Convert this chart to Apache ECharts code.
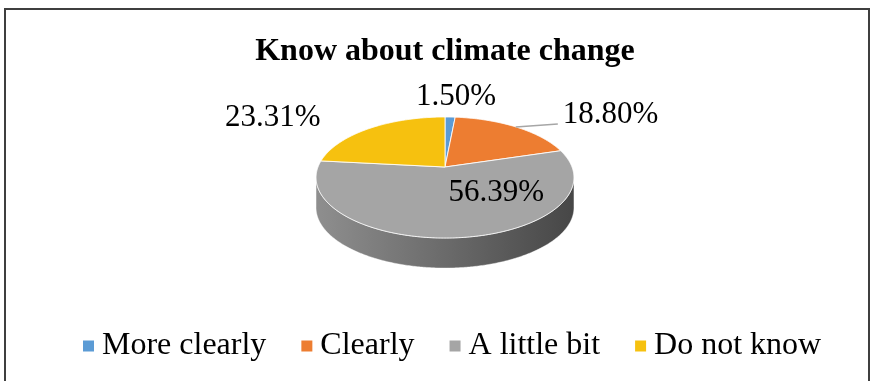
<!DOCTYPE html>
<html>
<head>
<meta charset="utf-8">
<script src="https://cdn.jsdelivr.net/npm/echarts@6/dist/echarts.min.js"></script>
<style>
  html, body { margin: 0; padding: 0; background: #fff; }
  #chart { width: 874px; height: 381px; }
</style>
</head>
<body>
<div id="chart"></div>
<script>
// data
const categories = ['More clearly', 'Clearly', 'A little bit', 'Do not know'];
const shares = [1.50, 18.80, 56.39, 23.31];
const labelTexts = ['1.50%', '18.80%', '56.39%', '23.31%'];

// look
const colors = ['#5B9BD5', '#ED7D31', '#A5A5A5', '#F6C10F'];
const sideStops = [
  ['#4a86bd', '#3b6a96'],
  ['#cf6a22', '#a04f16'],
  ['#8e8e8e', '#474747'],
  ['#dcaa12', '#b48a06']
];
// label placement relative to the rim point at the slice middle: [radius factor, dx, dy, leader]
const labelLayout = [
  [1, 6, -20, false],
  [1, 47, -12, true],
  [0.55, 44, -10, false],
  [1, -97, -10, false]
];

// tilted pie geometry (perspective-ish ellipse)
const CX = 445, CY = 167, RX = 127, RY = 58.7, PERSP = 0.1736, DEPTH = 30;
const FONT = '"Liberation Serif", "Times New Roman", serif';

function rim(phi, k) {
  k = k == null ? 1 : k;
  const s = Math.sin(phi), c = Math.cos(phi);
  const den = 1 + PERSP * k * c;
  return [CX + RX * k * s / den, CY - RY * k * c / den];
}

const total = shares.reduce((a, b) => a + b, 0);

function makeRender(i) {
  return function (params, api) {
    const v = api.value(0);
    let before = 0;
    for (let j = 0; j < i; j++) before += shares[j];
    const a0 = before / total * Math.PI * 2;
    const a1 = (before + v) / total * Math.PI * 2;
    const children = [];

    // top face
    const top = [[CX, CY]];
    const n = Math.max(2, Math.ceil((a1 - a0) / 0.01));
    for (let t = 0; t <= n; t++) top.push(rim(a0 + (a1 - a0) * t / n));
    children.push({
      type: 'polygon', z2: 10,
      shape: { points: top },
      style: { fill: colors[i], stroke: 'rgba(255,255,255,0.85)', lineWidth: 1 }
    });

    // visible outer side
    const L = Math.acos(-PERSP), R = Math.PI * 2 - L;
    const s0 = Math.max(a0, L), s1 = Math.min(a1, R);
    if (s0 < s1) {
      const up = [], down = [];
      const m = Math.max(2, Math.ceil((s1 - s0) / 0.01));
      for (let t = 0; t <= m; t++) {
        const p = rim(s0 + (s1 - s0) * t / m);
        up.push(p);
        down.unshift([p[0], p[1] + DEPTH]);
      }
      children.push({
        type: 'polygon', z2: 1,
        shape: { points: up.concat(down) },
        style: {
          fill: {
            type: 'linear', global: true,
            x: CX - RX, y: 0, x2: CX + RX, y2: 0,
            colorStops: [
              { offset: 0, color: sideStops[i][0] },
              { offset: 1, color: sideStops[i][1] }
            ]
          },
          stroke: 'rgba(255,255,255,0.5)', lineWidth: 0.8
        }
      });
    }

    // label
    const lay = labelLayout[i];
    const mid = (a0 + a1) / 2;
    const anchor = rim(mid, lay[0]);
    const lx = anchor[0] + lay[1], ly = anchor[1] + lay[2];
    if (lay[3]) {
      children.push({
        type: 'polyline', z2: 15,
        shape: { points: [rim(mid), [lx - 5, anchor[1] - 3]] },
        style: { stroke: '#A6A6A6', lineWidth: 1.5, fill: null }
      });
    }
    children.push({
      type: 'text', z2: 20,
      style: {
        text: labelTexts[i], x: lx, y: ly,
        fill: '#000', font: '31px ' + FONT,
        align: lay[3] ? 'left' : 'center', verticalAlign: 'middle'
      }
    });

    return { type: 'group', children: children };
  };
}

const chart = echarts.init(document.getElementById('chart'));

chart.setOption({
  animation: false,
  backgroundColor: '#fff',
  title: {
    text: 'Know about climate change',
    left: 440,
    top: 31,
    textAlign: 'center',
    textStyle: { fontFamily: FONT, fontSize: 32, fontWeight: 'bold', color: '#000' }
  },
  legend: {
    data: categories,
    left: 78,
    top: 325,
    icon: 'rect',
    itemWidth: 11,
    itemHeight: 11,
    itemGap: 35,
    selectedMode: false,
    textStyle: { fontFamily: FONT, fontSize: 32, color: '#000', lineHeight: 32, padding: [0, 0, 0, 3] }
  },
  graphic: [{
    type: 'rect', silent: true,
    shape: { x: 5, y: 9, width: 864, height: 420 },
    style: { fill: null, stroke: '#3f3f3f', lineWidth: 2 }
  }],
  series: categories.map((name, i) => ({
    type: 'custom',
    name: name,
    coordinateSystem: 'none',
    silent: true,
    itemStyle: { color: colors[i] },
    data: [[shares[i]]],
    renderItem: makeRender(i)
  }))
});
</script>
</body>
</html>
